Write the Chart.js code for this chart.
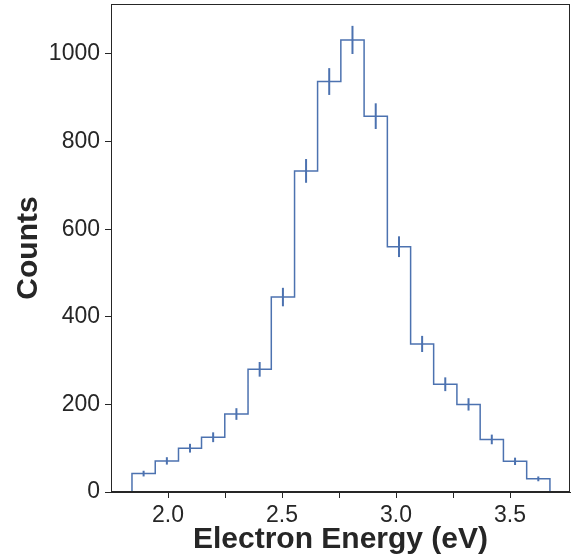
<!DOCTYPE html>
<html>
<head>
<meta charset="utf-8">
<script src="https://cdn.jsdelivr.net/npm/chart.js@4"></script>
<style>
  html, body { margin: 0; padding: 0; background: #ffffff; }
  #wrap { width: 576px; height: 560px; }
</style>
</head>
<body>
<div id="wrap"><canvas id="c" width="576" height="560"></canvas></div>
<script>
// Histogram bin edges (eV)
const binEdges = [1.842, 1.944, 2.046, 2.147, 2.249, 2.351, 2.453, 2.555, 2.656, 2.758,
                  2.860, 2.962, 3.064, 3.165, 3.267, 3.369, 3.471, 3.573, 3.675];
// Counts per bin
const counts = [42, 71, 100, 125, 178, 280, 445, 733, 937, 1032,
                858, 560, 338, 246, 200, 120, 70, 30];
// Error bar half-lengths
const errors = [6.5, 8.4, 10, 11.2, 13.3, 16.7, 21.1, 27.1, 30.6, 32.1,
                29.3, 23.7, 18.4, 15.7, 14.1, 11.0, 8.4, 5.5];
// Axis ticks
const xTicks = [2.0, 2.25, 2.5, 2.75, 3.0, 3.25, 3.5];
const xTickLabels = ['2.0', '', '2.5', '', '3.0', '', '3.5'];
const yTicks = [0, 200, 400, 600, 800, 1000];
const yTickLabels = ['0', '200', '400', '600', '800', '1000'];

const BLUE = '#4c72b0';
const INK = '#262626';

// Step outline
const stepPts = [{x: binEdges[0], y: 0}];
for (let i = 0; i < counts.length; i++) stepPts.push({x: binEdges[i], y: counts[i]});
stepPts.push({x: binEdges[binEdges.length - 1], y: counts[counts.length - 1]});
stepPts.push({x: binEdges[binEdges.length - 1], y: 0});

const datasets = [{
  data: stepPts,
  stepped: 'before',
  borderColor: BLUE,
  borderWidth: 1.5,
  pointRadius: 0,
  fill: false
}];
for (let i = 0; i < counts.length; i++) {
  const c = (binEdges[i] + binEdges[i + 1]) / 2;
  datasets.push({
    data: [{x: c, y: counts[i] - errors[i]}, {x: c, y: counts[i] + errors[i]}],
    borderColor: BLUE,
    borderWidth: 2,
    pointRadius: 0,
    fill: false
  });
}

const frame = {
  id: 'frame',
  afterDatasetsDraw(chart) {
    const {ctx, chartArea: a} = chart;
    ctx.save();
    ctx.strokeStyle = INK;
    ctx.lineWidth = 1;
    ctx.strokeRect(a.left + 0.5, a.top + 0.5, a.right - a.left - 1, a.bottom - a.top - 1);
    ctx.restore();
  }
};

new Chart(document.getElementById('c'), {
  type: 'line',
  data: { datasets },
  plugins: [frame],
  options: {
    responsive: false,
    animation: false,
    layout: { padding: { top: 4, right: 6, left: 0, bottom: 0 } },
    plugins: { legend: { display: false }, tooltip: { enabled: false } },
    scales: {
      x: {
        type: 'linear',
        min: 1.75,
        max: 3.763,
        afterBuildTicks: (s) => { s.ticks = xTicks.map(v => ({value: v})); },
        afterFit: (s) => { s.height = 68; s.paddingLeft = 0; s.paddingRight = 0; },
        ticks: {
          autoSkip: false,
          maxRotation: 0,
          color: INK,
          padding: 4,
          font: { family: 'Liberation Sans', size: 23 },
          callback: (v, i) => xTickLabels[i]
        },
        grid: { drawOnChartArea: false, drawTicks: true, tickLength: 6, color: INK, tickWidth: 1 },
        border: { display: true, color: INK, width: 1 },
        title: {
          display: true,
          text: 'Electron Energy (eV)',
          color: INK,
          font: { family: 'Liberation Sans', size: 30, weight: 'bold', lineHeight: 1.2 },
          padding: { top: 0, bottom: 2 }
        }
      },
      y: {
        type: 'linear',
        min: 0,
        max: 1114,
        afterBuildTicks: (s) => { s.ticks = yTicks.map(v => ({value: v})); },
        afterFit: (s) => { s.width = 111; s.paddingTop = 0; s.paddingBottom = 0; },
        ticks: {
          color: INK,
          padding: 5,
          font: { family: 'Liberation Sans', size: 23 },
          callback: (v, i) => yTickLabels[i]
        },
        grid: { drawOnChartArea: false, drawTicks: true, tickLength: 6, color: INK, tickWidth: 1 },
        border: { display: true, color: INK, width: 1 },
        title: {
          display: true,
          text: 'Counts',
          color: INK,
          font: { family: 'Liberation Sans', size: 30, weight: 'bold', lineHeight: 1.2 },
          padding: { top: 11, bottom: 0 }
        }
      }
    }
  }
});
</script>
</body>
</html>
